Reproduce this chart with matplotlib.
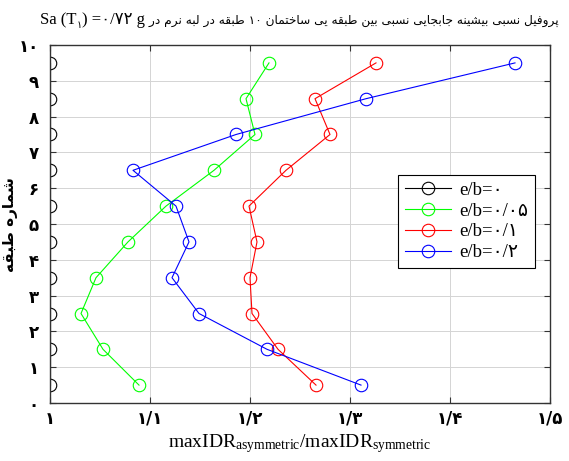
import numpy as np
import matplotlib
matplotlib.use('Agg')
import matplotlib.pyplot as plt
from matplotlib.font_manager import FontProperties
from matplotlib.path import Path

plt.rcParams['mathtext.fontset'] = 'custom'
plt.rcParams['mathtext.rm'] = 'Liberation Serif'
plt.rcParams['mathtext.it'] = 'Liberation Serif:italic'

# storey mid-heights and drift ratios (asymmetric / symmetric) per e/b case
storey = [0.5, 1.5, 2.5, 3.5, 4.5, 5.5, 6.5, 7.5, 8.5, 9.5]
ratio_e0 = [1.0, 1.0, 1.0, 1.0, 1.0, 1.0, 1.0, 1.0, 1.0, 1.0]
ratio_e005 = [1.089, 1.053, 1.031, 1.046, 1.078, 1.116, 1.164, 1.205, 1.196, 1.219]
ratio_e01 = [1.266, 1.228, 1.202, 1.200, 1.207, 1.199, 1.236, 1.280, 1.265, 1.326]
ratio_e02 = [1.311, 1.217, 1.149, 1.122, 1.139, 1.126, 1.083, 1.186, 1.316, 1.465]

labels = ['e/b=۰', 'e/b=۰/۰۵', 'e/b=۰/۱', 'e/b=۰/۲']
xticks = [1.0, 1.1, 1.2, 1.3, 1.4, 1.5]
xticklabels = ['۱', '۱/۱', '۱/۲', '۱/۳', '۱/۴', '۱/۵']
yticks = list(range(11))
yticklabels = ['۰', '۱', '۲', '۳', '۴', '۵', '۶', '۷', '۸', '۹', '۱۰']

title_fa = 'پروفیل نسبی بیشینه جابجایی نسبی بین طبقه یی ساختمان ۱۰ طبقه در لبه نرم در'
ylabel_fa = 'شماره طبقه'

# contextual forms: isolated, final, initial, medial (None = right-joining only)
FORMS = {
    'ا': ('\uFE8D', '\uFE8E', None, None),
    'ب': ('\uFE8F', '\uFE90', '\uFE91', '\uFE92'),
    'پ': ('\uFB56', '\uFB57', '\uFB58', '\uFB59'),
    'ت': ('\uFE95', '\uFE96', '\uFE97', '\uFE98'),
    'ج': ('\uFE9D', '\uFE9E', '\uFE9F', '\uFEA0'),
    'خ': ('\uFEA5', '\uFEA6', '\uFEA7', '\uFEA8'),
    'د': ('\uFEA9', '\uFEAA', None, None),
    'ر': ('\uFEAD', '\uFEAE', None, None),
    'س': ('\uFEB1', '\uFEB2', '\uFEB3', '\uFEB4'),
    'ش': ('\uFEB5', '\uFEB6', '\uFEB7', '\uFEB8'),
    'ط': ('\uFEC1', '\uFEC2', '\uFEC3', '\uFEC4'),
    'ف': ('\uFED1', '\uFED2', '\uFED3', '\uFED4'),
    'ق': ('\uFED5', '\uFED6', '\uFED7', '\uFED8'),
    'ل': ('\uFEDD', '\uFEDE', '\uFEDF', '\uFEE0'),
    'م': ('\uFEE1', '\uFEE2', '\uFEE3', '\uFEE4'),
    'ن': ('\uFEE5', '\uFEE6', '\uFEE7', '\uFEE8'),
    'ه': ('\uFEE9', '\uFEEA', '\uFEEB', '\uFEEC'),
    'و': ('\uFEED', '\uFEEE', None, None),
    'ی': ('\uFBFC', '\uFBFD', '\uFBFE', '\uFBFF'),
}
DIGITS = set('۰۱۲۳۴۵۶۷۸۹')


def shape_word(word):
    if all(c in DIGITS for c in word):
        return word
    out = []
    for i, ch in enumerate(word):
        f = FORMS.get(ch)
        if f is None:
            out.append(ch)
            continue
        prev = word[i - 1] if i > 0 else None
        nxt = word[i + 1] if i < len(word) - 1 else None
        jp = prev in FORMS and FORMS[prev][2] is not None
        jn = f[2] is not None and nxt in FORMS
        if jp and jn:
            out.append(f[3])
        elif jp:
            out.append(f[1])
        elif jn:
            out.append(f[2])
        else:
            out.append(f[0])
    return ''.join(reversed(out))


def rtl(text):
    return ' '.join(shape_word(w) for w in reversed(text.split()))


fa_font = ['DejaVu Sans']
mixed_font = ['Liberation Serif', 'DejaVu Sans']

fig = plt.figure(figsize=(5.69, 4.61), dpi=100)
ax = fig.add_axes([50 / 569, 1 - 403 / 461, 500 / 569, 358 / 461])

# polygon clip (a Rectangle would become a clip box, which leaves edge markers whole)
box = Path([(0, 0), (1, 0), (1, 1), (0, 1), (0, 0)], closed=True)

series = [(ratio_e0, 'k'), (ratio_e005, '#00ff00'), (ratio_e01, '#ff0000'), (ratio_e02, '#0000ff')]
for (vals, col), lab in zip(series, labels):
    ln, = ax.plot(vals, storey, '-o', color=col, lw=0.8, ms=9, mfc='none', mew=0.8, label=lab)
    ln.set_clip_path(box, ax.transAxes)

ax.set_xlim(1.0, 1.5)
ax.set_ylim(0, 10)
ax.set_xticks(xticks)
ax.set_xticklabels(xticklabels, fontfamily=fa_font, fontsize=12, fontweight='bold')
ax.set_yticks(yticks)
ax.set_yticklabels(yticklabels, fontfamily=fa_font, fontsize=12, fontweight='bold')
ax.tick_params(direction='in', length=4, width=0.8, top=True, right=True, colors='#333333', labelcolor='k')
ax.tick_params(axis='x', pad=5)
ax.tick_params(axis='y', pad=8)
ax.grid(True, color='#d4d4d4', lw=0.7)
ax.set_axisbelow(True)
for s in ax.spines.values():
    s.set_color('#333333')
    s.set_linewidth(1.0)

leg = ax.legend(loc='upper left', bbox_to_anchor=(0.696, 0.637), prop=FontProperties(family=mixed_font, size=13.5),
                fancybox=False, edgecolor='k', framealpha=1, handlelength=2.5, labelspacing=0.2,
                borderpad=0.35, handletextpad=0.4, borderaxespad=0)
leg.get_frame().set_linewidth(0.8)

ax.set_xlabel(r'$\mathrm{maxIDR}_{\mathrm{asymmetric}}/\mathrm{maxIDR}_{\mathrm{symmetric}}$', fontsize=14, labelpad=3)

fig.text(11 / 569, 1 - 225 / 461, rtl(ylabel_fa), rotation=90, ha='center', va='center',
         fontfamily=fa_font, fontsize=11, fontweight='bold')

# title: latin run on the left, persian words to its right
ty = 1 - 24 / 461
t1 = fig.text(40 / 569, ty, 'Sa (T', fontfamily=mixed_font, fontsize=12, va='baseline')
t2 = plt.annotate('۱', xy=(1, ty - 4 / 461), xycoords=(t1, 'figure fraction'), fontfamily=fa_font, fontsize=7,
                  va='baseline', ha='left', annotation_clip=False)
t3 = plt.annotate(') =۰/۷۲ g', xy=(1, ty), xycoords=(t2, 'figure fraction'),
                  fontfamily=mixed_font, fontsize=12, va='baseline', ha='left', annotation_clip=False)
t4 = plt.annotate(' ' + rtl(title_fa), xy=(1, ty), xycoords=(t3, 'figure fraction'),
                  fontfamily=fa_font, fontsize=8.7, va='baseline', ha='left', annotation_clip=False)

fig.savefig('out.png', dpi=100)
